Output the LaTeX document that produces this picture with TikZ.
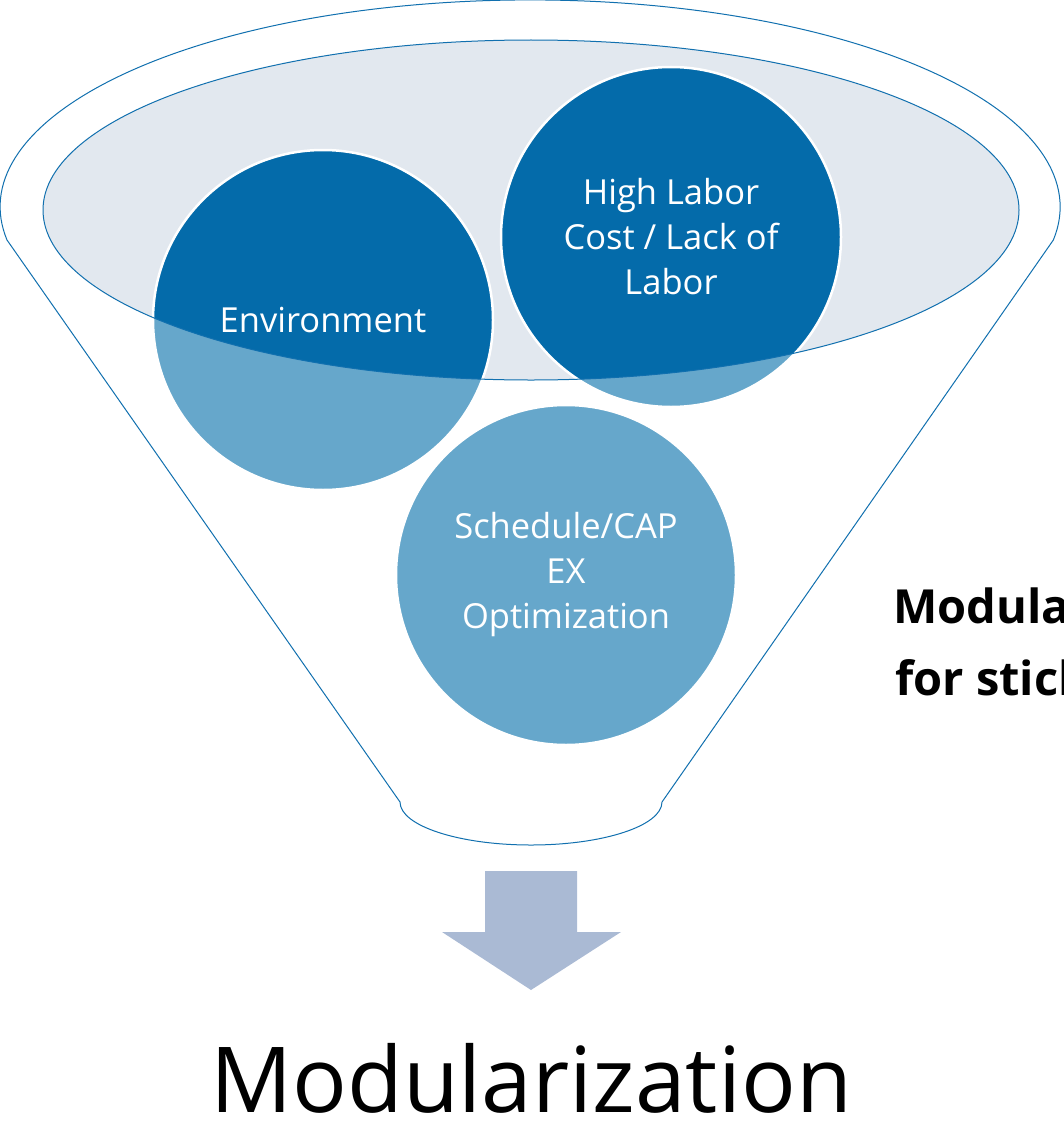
\documentclass[tikz,border=0pt]{standalone}
\usepackage{fontspec}
\setmainfont{Open Sans}

\definecolor{deepblue}{HTML}{046BAA}
\definecolor{paleblue}{HTML}{66A7CB}
\definecolor{rimblue}{HTML}{1170AF}
\definecolor{mistfill}{HTML}{E2E8EF}
\definecolor{arrowgrey}{HTML}{AABAD4}

\newcommand*{\rimrx}{488}
\newcommand*{\rimry}{170}

\begin{document}
\begin{tikzpicture}
[
	x=1pt,
	y=-1pt,
	bubble/.style={circle,fill=paleblue,draw=white,line width=2.5pt,inner sep=0pt,minimum size=340pt,
		text=white,align=center,font=\fontsize{34.5}{45}\selectfont,
		path picture={\fill[deepblue] (rim) ellipse [x radius=\rimrx,y radius=\rimry];}},
	funnel/.style={draw=rimblue,line width=1pt},
	caption/.style={inner sep=0pt,font=\bfseries\fontsize{47}{56}\selectfont,anchor=base west}
]
	\useasboundingbox (0,0) rectangle (1063,1124);
	\clip (0,0) rectangle (1063,1124);

	% funnel body
	\draw[funnel,fill=white] (7,240) arc[start angle=170.8,end angle=369.2,x radius=530,y radius=207]
		-- (662,802) arc[start angle=0,end angle=180,x radius=131,y radius=43] -- cycle;
	\coordinate (rim) at (531,210);
	\fill[mistfill] (rim) ellipse [x radius=\rimrx,y radius=\rimry];

	% causes
	\node[bubble] (env) at (323,320) {Environment};
	\node[bubble] (labor) at (671,237) {High Labor\\Cost / Lack of\\Labor};
	\node[bubble] (sched) at (566,575) {Schedule/CAP\\EX\\Optimization};

	\draw[funnel] (rim) ellipse [x radius=\rimrx,y radius=\rimry];

	% output arrow
	\fill[arrowgrey] (485,871) -- (577,871) -- (577,932) -- (621,932) -- (531,990)
		-- (442,932) -- (485,932) -- cycle;

	\node[font=\fontsize{91}{100}\selectfont,inner sep=0pt,anchor=base] (result) at (531,1112) {Modularization};

	\node[caption] (note) at (893,623) {Modula};
	\node[caption] (notetwo) at (895,695) {for stick};

\end{tikzpicture}
\end{document}
